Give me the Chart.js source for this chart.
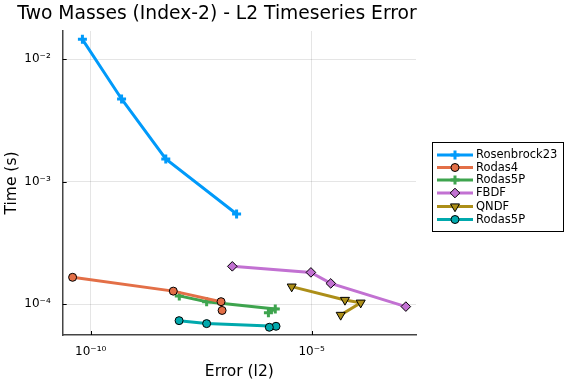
<!DOCTYPE html>
<html><head><meta charset="utf-8">
<script src="https://cdn.jsdelivr.net/npm/chart.js@4"></script>
<style>html,body{margin:0;padding:0;background:#fff}</style>
</head><body>
<canvas id="c" width="576" height="384"></canvas>
<script>
const seriesNames = ["Rosenbrock23", "Rodas4", "Rodas5P", "FBDF", "QNDF", "Rodas5P"];
const rosenbrockErr = [6.5e-11, 5.0e-10, 5.0e-9, 2.0e-7];
const rosenbrockTime = [1.455e-2, 4.74e-3, 1.535e-3, 5.46e-4];
const rodas4Err = [3.9e-11, 7.4e-9, 8.9e-8, 9.4e-8];
const rodas4Time = [1.66e-4, 1.28e-4, 1.05e-4, 8.9e-5];
const rodas5pErr = [1.01e-8, 4.2e-8, 1.5e-6, 1.05e-6];
const rodas5pTime = [1.17e-4, 1.047e-4, 9.16e-5, 8.53e-5];
const fbdfErr = [1.6e-7, 9.6e-6, 2.7e-5, 1.35e-3];
const fbdfTime = [2.04e-4, 1.82e-4, 1.48e-4, 9.57e-5];
const qndfErr = [3.53e-6, 5.66e-5, 1.285e-4, 4.53e-5];
const qndfTime = [1.393e-4, 1.084e-4, 1.03e-4, 8.18e-5];
const rodas5pBErr = [1.0e-8, 4.2e-8, 1.56e-6, 1.1e-6];
const rodas5pBTime = [7.35e-5, 6.95e-5, 6.61e-5, 6.49e-5];
const xTickValues = [1e-10, 1e-5];
const yTickValues = [1e-4, 1e-3, 1e-2];

const FONT = "'DejaVu Sans', sans-serif";
const colors = ["#009AFA", "#E36F47", "#3EA44E", "#C271D2", "#AC8E18", "#00A9AD"];
const styles = [
  {pointStyle: 'cross', radius: 4.5, rotation: 0, borderWidth: 3, stroke: 'self'},
  {pointStyle: 'circle', radius: 4, rotation: 0, borderWidth: 1, stroke: '#000'},
  {pointStyle: 'cross', radius: 4.5, rotation: 0, borderWidth: 3, stroke: 'self'},
  {pointStyle: 'rectRot', radius: 4.8, rotation: 0, borderWidth: 1, stroke: '#000'},
  {pointStyle: 'triangle', radius: 5.2, rotation: 180, borderWidth: 1, stroke: '#000'},
  {pointStyle: 'circle', radius: 4, rotation: 0, borderWidth: 1, stroke: '#000'}
];
const xs = [rosenbrockErr, rodas4Err, rodas5pErr, fbdfErr, qndfErr, rodas5pBErr];
const ys = [rosenbrockTime, rodas4Time, rodas5pTime, fbdfTime, qndfTime, rodas5pBTime];

const sup = {'0':'⁰','1':'¹','2':'²','3':'³','4':'⁴','5':'⁵','6':'⁶','7':'⁷','8':'⁸','9':'⁹','-':'⁻'};
function fmtPow(v) {
  const e = Math.round(Math.log10(v));
  return '10' + String(e).split('').map(c => sup[c]).join('');
}

const datasets = seriesNames.map((name, i) => ({
  label: name,
  data: xs[i].map((x, j) => ({x: x, y: ys[i][j]})),
  showLine: true,
  borderColor: colors[i],
  backgroundColor: colors[i],
  borderWidth: 3,
  pointStyle: styles[i].pointStyle,
  pointRadius: styles[i].radius,
  pointRotation: styles[i].rotation,
  pointBorderWidth: styles[i].borderWidth,
  pointBorderColor: styles[i].stroke === 'self' ? colors[i] : styles[i].stroke,
  pointBackgroundColor: colors[i],
  pointHoverRadius: styles[i].radius,
  clip: false
}));

const extras = {
  id: 'extras',
  afterDraw(chart) {
    const ctx = chart.ctx;
    const ca = chart.chartArea;
    ctx.save();
    // title
    ctx.fillStyle = '#000';
    ctx.font = "18.7px " + FONT;
    ctx.textAlign = 'center';
    ctx.textBaseline = 'alphabetic';
    ctx.fillText('Two Masses (Index-2) - L2 Timeseries Error', 217, 18.5);
    // inner tick marks
    ctx.strokeStyle = '#000';
    ctx.lineWidth = 1;
    const xs_ = chart.scales.x, ys_ = chart.scales.y;
    xTickValues.forEach(v => {
      const px = Math.round(xs_.getPixelForValue(v)) + 0.5;
      ctx.beginPath(); ctx.moveTo(px, ca.bottom); ctx.lineTo(px, ca.bottom - 4); ctx.stroke();
    });
    yTickValues.forEach(v => {
      const py = Math.round(ys_.getPixelForValue(v)) + 0.5;
      ctx.beginPath(); ctx.moveTo(ca.left, py); ctx.lineTo(ca.left + 4, py); ctx.stroke();
    });
    // legend
    const bx = 432.5, by = 142.5, bw = 131, bh = 89;
    ctx.fillStyle = '#fff';
    ctx.fillRect(bx, by, bw, bh);
    ctx.strokeStyle = '#000';
    ctx.lineWidth = 1;
    ctx.strokeRect(bx, by, bw, bh);
    const rowY = [155, 167.5, 180, 193, 206.5, 219.5];
    ctx.font = "11.5px " + FONT;
    ctx.textAlign = 'left';
    ctx.textBaseline = 'middle';
    seriesNames.forEach((name, i) => {
      const y = rowY[i];
      ctx.strokeStyle = colors[i];
      ctx.lineWidth = 3;
      ctx.beginPath(); ctx.moveTo(437, y); ctx.lineTo(473, y); ctx.stroke();
      ctx.fillStyle = colors[i];
      ctx.strokeStyle = styles[i].stroke === 'self' ? colors[i] : styles[i].stroke;
      ctx.lineWidth = styles[i].borderWidth;
      Chart.helpers.drawPoint(ctx, {pointStyle: styles[i].pointStyle, radius: styles[i].radius, rotation: styles[i].rotation, borderWidth: styles[i].borderWidth}, 455, y);
      ctx.fillStyle = '#000';
      ctx.fillText(name, 476, y + 0.5);
    });
    ctx.restore();
  }
};

new Chart(document.getElementById('c'), {
  type: 'scatter',
  data: {datasets},
  options: {
    responsive: false,
    devicePixelRatio: 1,
    animation: false,
    layout: {padding: {left: 0, right: 160, top: 31, bottom: 0}},
    plugins: {legend: {display: false}, title: {display: false}, tooltip: {enabled: false}},
    elements: {line: {tension: 0}},
    scales: {
      x: {
        type: 'logarithmic',
        bounds: 'data',
        min: Math.pow(10, -10.633),
        max: Math.pow(10, -2.64),
        afterBuildTicks(s) { s.ticks = xTickValues.map(v => ({value: v})); },
        afterFit(s) { s.height = 49; },
        ticks: {callback: v => fmtPow(v), font: {family: FONT, size: 12}, color: '#000', padding: 10, maxRotation: 0, autoSkip: false},
        grid: {color: 'rgba(0,0,0,0.1)', drawTicks: false, lineWidth: 1},
        border: {display: true, color: '#444', width: 1.5},
        title: {display: true, text: 'Error (l2)', font: {family: FONT, size: 15.5}, color: '#000', padding: {top: 0, bottom: 3}}
      },
      y: {
        type: 'logarithmic',
        bounds: 'data',
        min: Math.pow(10, -4.251),
        max: Math.pow(10, -1.769),
        afterBuildTicks(s) { s.ticks = yTickValues.map(v => ({value: v})); },
        afterFit(s) { s.width = 62.7; },
        ticks: {callback: v => fmtPow(v), font: {family: FONT, size: 12}, color: '#000', padding: 12, autoSkip: false},
        grid: {color: 'rgba(0,0,0,0.1)', drawTicks: false, lineWidth: 1},
        border: {display: true, color: '#444', width: 1.5},
        title: {display: true, text: 'Time (s)', font: {family: FONT, size: 15.5}, color: '#000', padding: {top: 3, bottom: 0}}
      }
    }
  },
  plugins: [extras]
});
</script>
</body></html>
